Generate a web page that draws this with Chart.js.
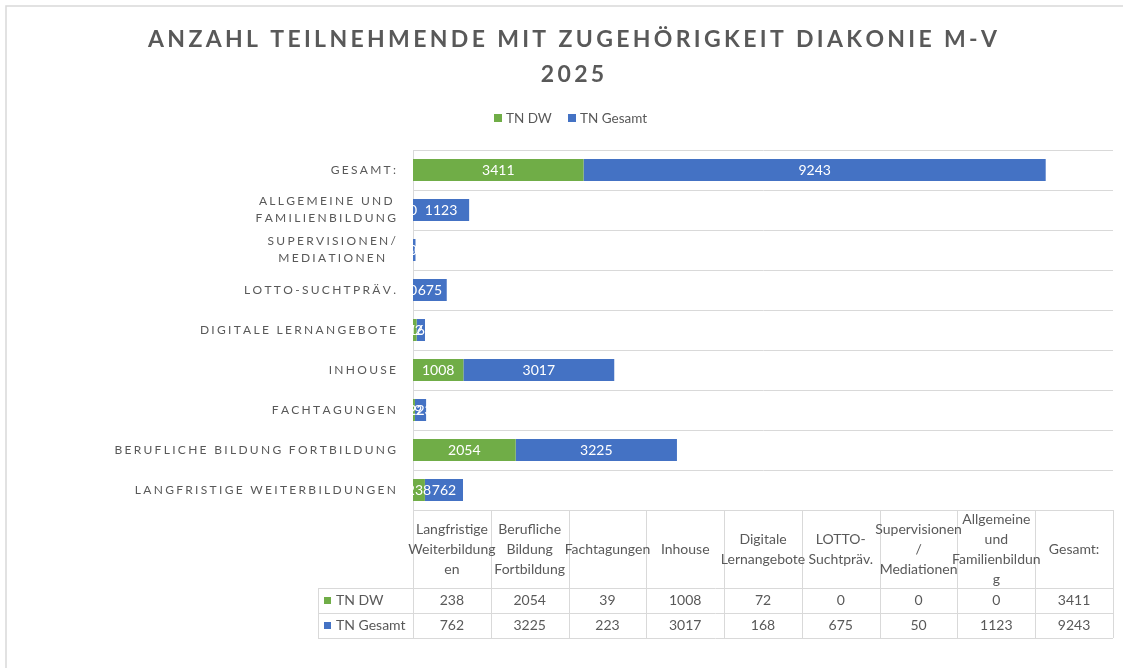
<!DOCTYPE html>
<html><head><meta charset="utf-8">
<script src="https://cdn.jsdelivr.net/npm/chart.js@4.4.1/dist/chart.umd.min.js"></script>
<style>html,body{margin:0;padding:0;background:#fff}#wrap{width:1123px;height:668px;position:relative}</style>
</head><body><div id="wrap"><canvas id="c" width="1123" height="668"></canvas></div>
<script>
// ---- data ----
const categories = ['Langfristige Weiterbildungen', 'Berufliche Bildung Fortbildung', 'Fachtagungen', 'Inhouse', 'Digitale Lernangebote', 'LOTTO-Suchtpräv.', 'Supervisionen/ Mediationen', 'Allgemeine und Familienbildung', 'Gesamt:'];
const axisLabels = [['LANGFRISTIGE WEITERBILDUNGEN'], ['BERUFLICHE BILDUNG FORTBILDUNG'], ['FACHTAGUNGEN'], ['INHOUSE'], ['DIGITALE LERNANGEBOTE'], ['LOTTO-SUCHTPRÄV.'], ['SUPERVISIONEN/', 'MEDIATIONEN'], ['ALLGEMEINE UND', 'FAMILIENBILDUNG'], ['GESAMT:']];
const tableHeaders = [['Langfristige', 'Weiterbildung', 'en'], ['Berufliche', 'Bildung', 'Fortbildung'], ['Fachtagungen'], ['Inhouse'], ['Digitale', 'Lernangebote'], ['LOTTO-', 'Suchtpräv.'], ['Supervisionen', '/', 'Mediationen'], ['Allgemeine', 'und', 'Familienbildun', 'g'], ['Gesamt:']];
const seriesNames = ['TN DW', 'TN Gesamt'];
const tnDW = [238, 2054, 39, 1008, 72, 0, 0, 0, 3411];
const tnGesamt = [762, 3225, 223, 3017, 168, 675, 50, 1123, 9243];
const xMax = 14000;
const titleLines = ['ANZAHL TEILNEHMENDE MIT ZUGEHÖRIGKEIT DIAKONIE M-V', '2025'];

// ---- style ----
const GREEN = '#70AD47', BLUE = '#4472C4', TEXT = '#595959', GRID = '#D9D9D9';
const FONT = 'Lato, "Open Sans", sans-serif';
const colors = [GREEN, BLUE];

function textWidth(ctx, t, sp) {
  let w = 0;
  for (const ch of t) w += ctx.measureText(ch).width + sp;
  return w - sp;
}
function drawSpaced(ctx, t, x, y, sp) {
  let cx = x;
  ctx.textAlign = 'left';
  for (const ch of t) { ctx.fillText(ch, cx, y); cx += ctx.measureText(ch).width + sp; }
}

const decor = {
  id: 'decor',
  beforeDraw(chart) {
    const ctx = chart.ctx;
    ctx.save();
    // outer frame
    ctx.strokeStyle = GRID; ctx.lineWidth = 1.5;
    ctx.beginPath(); ctx.moveTo(6, 668); ctx.lineTo(6, 6); ctx.lineTo(1123, 6); ctx.stroke();
    // title
    ctx.fillStyle = TEXT; ctx.textBaseline = 'alphabetic';
    ctx.font = 'bold 23px ' + FONT;
    const w0 = textWidth(ctx, titleLines[0], 0);
    const sp = (849 - w0) / (titleLines[0].length - 1);
    const cx = 572.5;
    titleLines.forEach((t, i) => {
      const w = textWidth(ctx, t, sp);
      drawSpaced(ctx, t, cx - w / 2, 47 + i * 35, sp);
    });
    // legend
    ctx.font = '13.5px ' + FONT;
    ctx.textBaseline = 'middle';
    const lx = [494, 568];
    seriesNames.forEach((n, i) => {
      ctx.fillStyle = colors[i];
      ctx.fillRect(lx[i], 114, 8, 8);
      ctx.fillStyle = TEXT;
      ctx.textAlign = 'left';
      ctx.fillText(n, lx[i] + 12, 118.5);
    });
    ctx.restore();
  },
  afterDatasetsDraw(chart) {
    const ctx = chart.ctx, a = chart.chartArea;
    ctx.save();
    ctx.beginPath(); ctx.rect(a.left, a.top, a.right - a.left, a.bottom - a.top); ctx.clip();
    ctx.fillStyle = '#fff'; ctx.font = '14px ' + FONT;
    ctx.textAlign = 'center'; ctx.textBaseline = 'middle';
    chart.data.datasets.forEach((ds, di) => {
      const meta = chart.getDatasetMeta(di);
      meta.data.forEach((el, i) => {
        ctx.fillText(String(ds.data[i]), (el.x + el.base) / 2, el.y + 0.5);
      });
    });
    ctx.restore();
  },
  afterDraw(chart) {
    const ctx = chart.ctx, a = chart.chartArea, ys = chart.scales.y;
    ctx.save();
    // category axis labels
    ctx.fillStyle = TEXT; ctx.font = '12px ' + FONT; ctx.textBaseline = 'middle';
    const lsp = 2.3, right = 396, lh = 17;
    axisLabels.forEach((lines, i) => {
      const yc = ys.getPixelForValue(i);
      const ws = lines.map(l => textWidth(ctx, l, lsp));
      const bw = Math.max(...ws);
      lines.forEach((l, k) => {
        const y = yc + (k - (lines.length - 1) / 2) * lh;
        drawSpaced(ctx, l, right - bw + (bw - ws[k]) / 2, y, lsp);
      });
    });
    // data table
    const n = categories.length;
    const colW = (a.right - a.left) / n;
    const top = a.bottom, hH = 78, rH = 25, labL = a.left - 95;
    const r1 = top + hH, r2 = r1 + rH, r3 = r2 + rH;
    ctx.strokeStyle = GRID; ctx.lineWidth = 1;
    ctx.beginPath();
    for (let i = 0; i <= n; i++) {
      const x = Math.round(a.left + i * colW) + 0.5;
      ctx.moveTo(x, top); ctx.lineTo(x, r3);
    }
    ctx.moveTo(labL + 0.5, r1); ctx.lineTo(labL + 0.5, r3);
    [r1, r2, r3].forEach(y => { ctx.moveTo(labL, y + 0.5); ctx.lineTo(a.right, y + 0.5); });
    ctx.moveTo(a.left, top + 0.5); ctx.lineTo(a.right, top + 0.5);
    ctx.stroke();
    ctx.fillStyle = TEXT; ctx.font = '14px ' + FONT; ctx.textAlign = 'center'; ctx.textBaseline = 'middle';
    tableHeaders.forEach((lines, i) => {
      const xc = a.left + (i + 0.5) * colW;
      lines.forEach((l, k) => {
        ctx.fillText(l, xc, top + hH / 2 + (k - (lines.length - 1) / 2) * 20);
      });
    });
    [tnDW, tnGesamt].forEach((arr, r) => {
      const yc = r1 + rH * (r + 0.5);
      arr.forEach((v, i) => {
        ctx.fillText(String(v), a.left + (i + 0.5) * colW, yc);
      });
    });
    ctx.textAlign = 'left';
    seriesNames.forEach((nm, r) => {
      const yc = r1 + rH * (r + 0.5);
      ctx.fillStyle = colors[r];
      ctx.fillRect(labL + 6, yc - 3.5, 7, 7);
      ctx.fillStyle = TEXT;
      ctx.fillText(nm, labL + 18, yc);
    });
    ctx.restore();
  }
};

new Chart(document.getElementById('c'), {
  type: 'bar',
  data: {
    labels: categories,
    datasets: [
      { label: seriesNames[0], data: tnDW, backgroundColor: GREEN, borderWidth: 0 },
      { label: seriesNames[1], data: tnGesamt, backgroundColor: BLUE, borderWidth: 0 }
    ]
  },
  options: {
    indexAxis: 'y',
    responsive: false,
    animation: false,
    events: [],
    categoryPercentage: 1,
    barPercentage: 0.55,
    layout: { padding: { left: 413, top: 150, right: 10, bottom: 158 } },
    plugins: { legend: { display: false }, title: { display: false }, tooltip: { enabled: false } },
    scales: {
      x: { stacked: true, min: 0, max: xMax, display: false },
      y: {
        stacked: true, reverse: true,
        ticks: { display: false },
        grid: { color: GRID, drawTicks: false, offset: true },
        border: { color: GRID },
        afterFit: s => { s.width = 0; }
      }
    }
  },
  plugins: [decor]
});
</script></body></html>
